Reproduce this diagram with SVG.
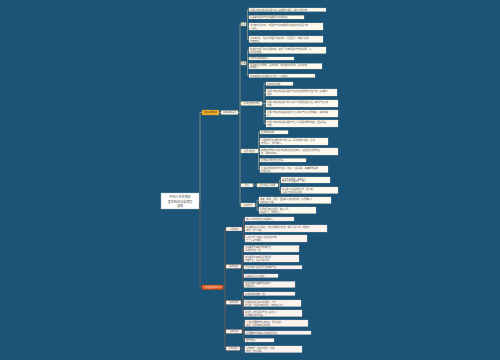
<svg xmlns="http://www.w3.org/2000/svg" width="500" height="360" viewBox="0 0 500 360">
<style>
text{font-family:"Noto Sans CJK SC","Noto Sans",sans-serif;}
.cu{fill:none;stroke:#c8bc98;stroke-width:0.55;stroke-linejoin:round;}
.cl{fill:none;stroke:#9a6248;stroke-width:0.6;stroke-linejoin:round;}
.lu rect{fill:#fdf9ec;stroke:#e6dcc2;stroke-width:0.25;}
.ll rect{fill:#fdf3ee;stroke:#ead6cc;stroke-width:0.25;}
.lu text,.ll text{font-size:2.2px;fill:#5a5a5a;}
.nu rect{fill:#fdf9ec;stroke:#b9ab84;stroke-width:0.3;}
.nl rect{fill:#fdf3ee;stroke:#7a4a36;stroke-width:0.3;}
.nu text,.nl text{font-size:2.2px;fill:#555;text-anchor:middle;}
</style>
<rect width="500" height="360" fill="#1c5478"/>
<g id="connectors">
<path class="cu" d="M199,201 H200 V112.5 H202 M219,112.5 H221 M238,112.5 H240 M240,24.2 V205 M240,24.2 H241 M240,63.2 H241 M240,103.5 H241 M240,151 H241 M240,185.2 H241 M240,205 H241"/>
<path class="cl" d="M199,201 H200 V287.2 H202 M223,287.2 H225 M225,229 V348.5 M225,229 H226 M225,266.5 H226 M225,302.5 H226 M225,331.5 H226 M225,348.5 H226"/>
<path class="cu" d="M246,24.2 H247.5 M247.5,9.8 V39.2 M247.5,9.8 H249 M247.5,17.2 H249 M247.5,26.5 H249 M247.5,39.2 H249"/>
<path class="cu" d="M246,63.2 H247.5 M247.5,50.2 V75.8 M247.5,50.2 H249 M247.5,58.5 H249 M247.5,66.2 H249 M247.5,75.8 H249"/>
<path class="cu" d="M262,103.5 H264 M264,83.8 V123.5 M264,83.8 H266 M264,92.5 H266 M264,103.5 H266 M264,113.5 H266 M264,123.5 H266"/>
<path class="cu" d="M258,151 H258.5 M258.5,132.2 V169.2 M258.5,132.2 H260 M258.5,141.5 H260 M258.5,151.5 H260 M258.5,160.2 H260 M258.5,169.2 H260"/>
<path class="cu" d="M253,185.2 H257 M278,185.2 H279.5 M279.5,180 V190.2 M279.5,180 H281 M279.5,190.2 H281"/>
<path class="cu" d="M255,205 H257 M257,200.2 V210.2 M257,200.2 H259 M257,210.2 H259"/>
<path class="cl" d="M242,229 H243.5 M243.5,219 V238.5 M243.5,219 H245 M243.5,228.5 H245 M243.5,238.5 H245"/>
<path class="cl" d="M241,266.5 H242.5 M242.5,248.8 V284.5 M242.5,248.8 H244 M242.5,258.5 H244 M242.5,267.2 H244 M242.5,275.8 H244 M242.5,284.5 H244"/>
<path class="cl" d="M241,302.5 H242.5 M242.5,293.8 V313.2 M242.5,293.8 H244 M242.5,303.2 H244 M242.5,313.2 H244"/>
<path class="cl" d="M242,331.5 H243.5 M243.5,323.2 V340.2 M243.5,323.2 H245 M243.5,332.8 H245 M243.5,340.2 H245"/>
<path class="cl" d="M240,348.5 H245"/>
</g>
<g id="root"><rect x="161" y="193" width="38" height="16" fill="#ffffff" stroke="#9fb4c4" stroke-width="0.4"/>
<text x="180" y="198.4" font-size="3.1" fill="#444" text-anchor="middle">中国少年先锋队</text>
<text x="180" y="202.7" font-size="3.1" fill="#444" text-anchor="middle">基本知识点全梳理</text>
<text x="180" y="207" font-size="3.1" fill="#444" text-anchor="middle">总结</text></g>
<g id="b1"><rect x="202" y="110" width="17" height="5" fill="#f2b233" stroke="#c88a14" stroke-width="0.35"/><text x="210.5" y="113.3" font-size="2.3" fill="#5a3e00" text-anchor="middle">组织基本知识</text></g>
<g id="b1n" class="nu"><rect x="221" y="110.5" width="17" height="4"/><text x="229.5" y="113.3">队的基本情况</text></g>
<g id="nA" class="nu"><rect x="241" y="22.5" width="5" height="3.5"/><text x="243.5" y="25">队名</text></g>
<g id="nB" class="nu"><rect x="241" y="61.5" width="5" height="3.5"/><text x="243.5" y="64">队旗</text></g>
<g id="nC" class="nu"><rect x="241" y="101.5" width="21" height="4"/><text x="251.5" y="104.3">队的性质与作用</text></g>
<g id="nD" class="nu"><rect x="241" y="149" width="17" height="4"/><text x="249.5" y="151.8">队员与组织</text></g>
<g id="nE" class="nu"><rect x="241" y="183.5" width="12" height="3.5"/><text x="247" y="186">队礼</text></g>
<g id="nE2" class="nu"><rect x="257" y="183.5" width="21" height="3.5"/><text x="267.5" y="186">队礼的含义说明</text></g>
<g id="nF" class="nu"><rect x="241" y="203" width="14" height="4"/><text x="248" y="205.8">队的作风</text></g>
<g id="a1" class="lu"><rect x="249" y="8" width="77" height="3.5"/><text x="250" y="10.6">中国少年先锋队是中国少年儿童的群众组织，是学习的学校。</text></g>
<g id="a2" class="lu"><rect x="249" y="15.5" width="55" height="3.5"/><text x="250" y="18.1">队名由中国共产党中央委员会批准确定。</text></g>
<g id="a3" class="lu"><rect x="249" y="23" width="74" height="7"/><text x="250" y="25.8">1949年10月13日，中国共产党中央委员会决定建立中国少年</text><text x="250" y="28.8">儿童队。</text></g>
<g id="a4" class="lu"><rect x="249" y="36" width="74" height="6.5"/><text x="250" y="38.6">1953年6月，改名为中国少年先锋队，沿用至今，体现了队的</text><text x="250" y="41.5">光荣传统。</text></g>
<g id="b1l" class="lu"><rect x="249" y="47" width="77" height="6.5"/><text x="250" y="49.6">队旗是五角星加火炬的红旗。五角星代表中国共产党的领导，火</text><text x="250" y="52.5">炬象征光明。</text></g>
<g id="b2l" class="lu"><rect x="249" y="57" width="45" height="3"/><text x="250" y="59.4">红色象征革命胜利。</text></g>
<g id="b3l" class="lu"><rect x="249" y="63.5" width="73" height="5.5"/><text x="250" y="65.8">大队旗长120厘米，宽90厘米；中队旗长80厘米，宽60厘米，</text><text x="250" y="68.4">规格统一。</text></g>
<g id="b4l" class="lu"><rect x="249" y="74" width="66" height="3.5"/><text x="250" y="76.6">中队旗是在大队旗右边剪去一个三角形。</text></g>
<g id="c1" class="lu"><rect x="266" y="82" width="27" height="3.5"/><text x="267" y="84.6">队的性质说明</text></g>
<g id="c2" class="lu"><rect x="266" y="89" width="71" height="7"/><text x="267" y="91.8">中国少年先锋队是中国共产党创立和领导的中国少年儿童的群众</text><text x="267" y="94.8">组织。</text></g>
<g id="c3" class="lu"><rect x="266" y="100" width="72" height="7"/><text x="267" y="102.8">中国少年先锋队是少年儿童学习中国特色社会主义和共产主义的</text><text x="267" y="105.8">学校。</text></g>
<g id="c4" class="lu"><rect x="266" y="110" width="72" height="7"/><text x="267" y="112.8">中国少年先锋队是建设社会主义和共产主义的预备队，是党的助</text><text x="267" y="115.8">手。</text></g>
<g id="c5" class="lu"><rect x="266" y="120" width="72" height="7"/><text x="267" y="122.8">中国少年先锋队是中国共产主义青年团领导的组织，团队衔接。</text><text x="267" y="125.8">光荣。</text></g>
<g id="d1" class="lu"><rect x="260" y="130.5" width="28" height="3.5"/><text x="261" y="133.1">队员年龄说明</text></g>
<g id="d2" class="lu"><rect x="260" y="138" width="68" height="7"/><text x="261" y="140.8">凡是6周岁到14周岁的少年儿童，愿意参加少先队，愿意</text><text x="261" y="143.8">遵守队章，即可申请。</text></g>
<g id="d3" class="lu"><rect x="260" y="148" width="78" height="7"/><text x="261" y="150.8">向所在学校的少先队中队或大队提出申请，经批准后即成为队</text><text x="261" y="153.8">员，佩戴红领巾。</text></g>
<g id="d4" class="lu"><rect x="260" y="158.5" width="46" height="3.5"/><text x="261" y="161.1">队员满14周岁应当离队。</text></g>
<g id="d5" class="lu"><rect x="260" y="166" width="68" height="6.5"/><text x="261" y="168.6">少先队的组织形式为大队、中队、小队三级，由辅导员指导</text><text x="261" y="171.5">开展工作。</text></g>
<g id="e1" class="lu"><rect x="281" y="177" width="49" height="6"/><text x="282" y="179.5">右手五指并拢，高举头上，</text><text x="282" y="182.3">表示人民利益高于一切。</text></g>
<g id="e2" class="lu"><rect x="281" y="187" width="57" height="6.5"/><text x="282" y="189.6">队礼是少先队员的礼节，在升旗、</text><text x="282" y="192.5">入队仪式等场合使用。</text></g>
<g id="f1" class="lu"><rect x="259" y="197" width="72" height="6.5"/><text x="260" y="199.6">诚实、勇敢、活泼、团结是少先队的作风，队员要从小</text><text x="260" y="202.5">养成良好习惯。</text></g>
<g id="f2" class="lu"><rect x="259" y="207" width="57" height="6.5"/><text x="260" y="209.6">队员应当热爱祖国、热爱人民，</text><text x="260" y="212.5">好好学习、天天向上。</text></g>
<g id="b2"><rect x="202" y="285" width="21" height="4.5" fill="#e0561a" stroke="#b3400e" stroke-width="0.35"/><text x="212.5" y="288.1" font-size="2.3" fill="#fff3e8" text-anchor="middle">少先队活动与礼仪</text></g>
<g id="nG" class="nl"><rect x="226" y="227" width="16" height="4"/><text x="234" y="229.8">入队程序</text></g>
<g id="nH" class="nl"><rect x="226" y="264.5" width="15" height="4"/><text x="233.5" y="267.3">队的组织</text></g>
<g id="nI" class="nl"><rect x="226" y="300.5" width="15" height="4"/><text x="233.5" y="303.3">队的标志</text></g>
<g id="nJ" class="nl"><rect x="226" y="329.5" width="16" height="4"/><text x="234" y="332.3">队的纪律</text></g>
<g id="nK" class="nl"><rect x="226" y="346.5" width="14" height="4"/><text x="233" y="349.3">队日活动</text></g>
<g id="g1" class="ll"><rect x="245" y="217" width="49" height="4"/><text x="246" y="219.8">申请人向中队提出书面申请。</text></g>
<g id="g2" class="ll"><rect x="245" y="225" width="82" height="7"/><text x="246" y="227.8">中队委员会讨论通过，报大队委员会批准，举行入队仪式，佩戴红</text><text x="246" y="230.8">领巾，呼号宣誓。</text></g>
<g id="g3" class="ll"><rect x="245" y="235" width="62" height="7"/><text x="246" y="237.8">入队仪式一般在少先队建队日或</text><text x="246" y="240.8">六一儿童节举行。</text></g>
<g id="h1" class="ll"><rect x="244" y="245.5" width="55" height="6.5"/><text x="245" y="248.1">大队委员会由队员选举产生，</text><text x="245" y="251">每学年改选一次。</text></g>
<g id="h2" class="ll"><rect x="244" y="255" width="55" height="7"/><text x="245" y="257.8">中队委员会由中队全体队员</text><text x="245" y="260.8">选举产生，负责中队工作。</text></g>
<g id="h3" class="ll"><rect x="244" y="265.5" width="58" height="3.5"/><text x="245" y="268.1">小队长由小队队员民主选举产生。</text></g>
<g id="h4" class="ll"><rect x="244" y="274" width="34" height="3.5"/><text x="245" y="276.6">小队由5至13人组成。</text></g>
<g id="h5" class="ll"><rect x="244" y="281.5" width="51" height="6"/><text x="245" y="284">各级队委会在辅导员指导下</text><text x="245" y="286.8">开展工作。</text></g>
<g id="i1" class="ll"><rect x="244" y="292" width="51" height="3.5"/><text x="245" y="294.6">红领巾是红旗的一角。</text></g>
<g id="i2" class="ll"><rect x="244" y="300" width="57" height="6.5"/><text x="245" y="302.6">队徽由五角星和火炬组成，下方</text><text x="245" y="305.5">有写着“中国少年先锋队”的红色绶带。</text></g>
<g id="i3" class="ll"><rect x="244" y="310" width="58" height="6.5"/><text x="245" y="312.6">队歌为《我们是共产主义接班人》，</text><text x="245" y="315.5">在重要活动时演唱。</text></g>
<g id="j1" class="ll"><rect x="245" y="320" width="63" height="6.5"/><text x="246" y="322.6">少先队员要遵守队的纪律，服从队的</text><text x="246" y="325.5">决议，积极参加队的活动。</text></g>
<g id="j2" class="ll"><rect x="245" y="331" width="66" height="3.5"/><text x="246" y="333.6">队员要按时参加队会和各项活动。</text></g>
<g id="j3" class="ll"><rect x="245" y="338.5" width="29" height="3.5"/><text x="246" y="341.1">遵守纪律。</text></g>
<g id="k1" class="ll"><rect x="245" y="346" width="57" height="6.5"/><text x="246" y="348.6">每周安排一次队日活动，内容</text><text x="246" y="351.5">丰富，形式多样。</text></g>
</svg>
